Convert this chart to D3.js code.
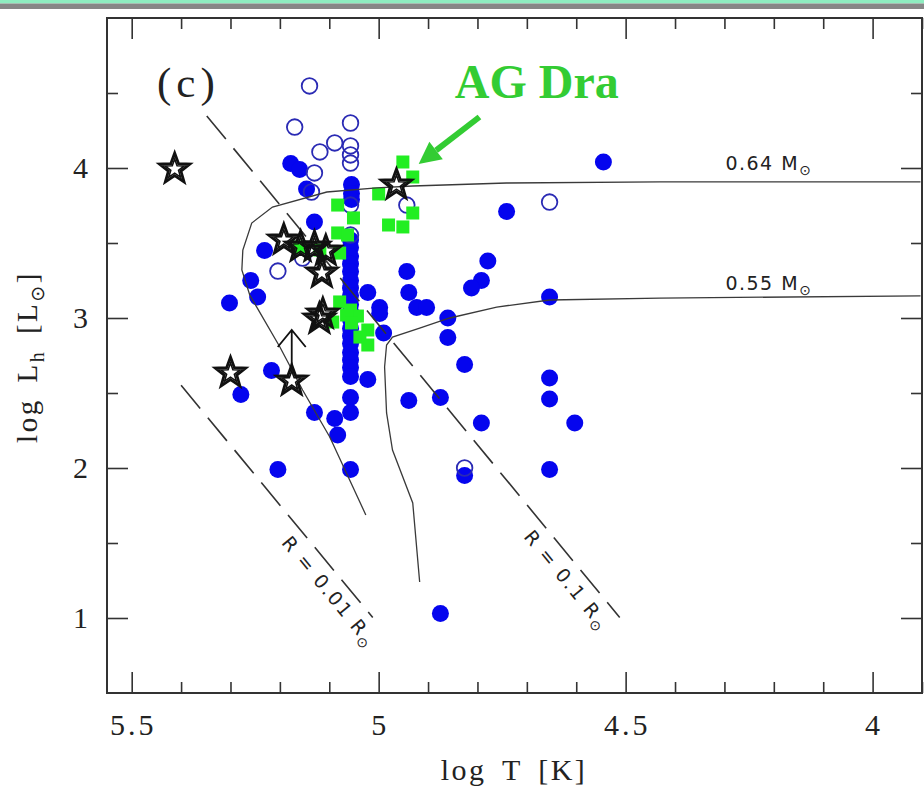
<!DOCTYPE html>
<html>
<head>
<meta charset="utf-8">
<script src="https://cdn.jsdelivr.net/npm/d3@7"></script>
<style>
  html, body { margin: 0; padding: 0; background: #fff; }
  svg { display: block; }
</style>
</head>
<body>
<svg id="chart" width="924" height="797"></svg>
<script>
// ---- Data: log T [K] (x) and log L_h [L_sun] (y) ----

// filled blue circles
const filledT = [5.178,5.160,5.146,5.055,5.055,5.055,5.130,5.231,5.259,5.245,5.302,4.943,4.939,5.022,4.998,4.998,4.990,4.923,4.903,4.860,4.860,4.826,4.779,4.792,4.812,4.741,4.545,4.654,4.654,4.654,4.603,4.654,4.792,4.826,4.875,4.939,5.022,5.217,5.279,5.130,5.089,5.083,5.057,5.057,5.057,5.204,4.875,
  5.057,5.057,5.057,5.057,5.057,5.057,5.057,5.057,5.057,5.057,5.057,5.057,5.057,5.057,5.057,5.057,5.057,5.057];
const filledL = [4.03,3.99,3.86,3.89,3.83,3.79,3.64,3.45,3.25,3.14,3.10,3.31,3.17,3.17,3.07,3.03,2.90,3.07,3.07,3.00,2.87,2.69,3.38,3.25,3.20,3.71,4.04,3.14,2.60,2.46,2.30,1.99,2.30,1.95,2.47,2.45,2.59,2.65,2.49,2.37,2.33,2.22,2.47,2.37,1.99,1.99,1.03,
  3.52,3.47,3.41,3.36,3.31,3.25,3.20,3.15,3.09,3.04,2.99,2.93,2.88,2.83,2.77,2.72,2.67,2.61];

// open blue circles
const openT = [5.140,5.170,5.057,5.089,5.119,5.057,5.057,5.057,5.130,5.136,5.057,4.943,5.204,5.057,5.154,4.654,4.826];
const openL = [4.547,4.273,4.300,4.167,4.107,4.147,4.087,4.033,3.967,3.840,3.753,3.753,3.313,3.553,3.400,3.773,2.000];

// AG Dra (green squares)
const agT = [4.951,4.931,5.000,4.931,4.980,4.951,5.083,5.051,5.083,5.063,5.079,5.079,5.057,5.043,5.065,5.055,5.093,5.022,5.038,5.022,5.160,5.119];
const agL = [4.040,3.940,3.827,3.700,3.620,3.607,3.753,3.667,3.567,3.553,3.433,3.107,3.053,3.013,3.020,2.967,2.973,2.920,2.873,2.820,3.473,3.453];

// star symbols
const starT = [5.413,4.964,5.192,5.158,5.130,5.107,5.115,5.120,5.113,5.176,5.300];
const starL = [4.000,3.893,3.527,3.480,3.480,3.453,3.307,3.000,3.033,2.587,2.640];

// lower-limit arrow attached to one star
const limitT = 5.176, limitFrom = 2.587, limitTo = 2.92;

// evolutionary tracks
const track064T = [5.026,5.099,5.154,5.200,5.261,5.277,5.275,5.257,5.215,5.105,5.004,4.931,4.741,4.431,3.903];
const track064L = [1.687,2.207,2.520,2.807,3.153,3.320,3.453,3.633,3.740,3.840,3.867,3.880,3.900,3.907,3.907];
const track055T = [4.917,4.931,4.972,4.984,4.988,4.984,4.972,4.917,4.856,4.761,4.654,4.431,3.903];
const track055L = [1.240,1.767,2.120,2.367,2.673,2.820,2.873,2.933,3.000,3.073,3.120,3.133,3.147];

// constant-radius lines (end points)
const r001T = [5.400, 5.012], r001L = [2.551, 1.003];
const r01T  = [5.348, 4.512], r01L  = [4.347, 1.003];

// axis ticks
const xMajor = [5.5, 5.0, 4.5, 4.0];
const xTickLabels = ["5.5", "5", "4.5", "4"];
const yMajor = [1, 2, 3, 4];
const yTickLabels = ["1", "2", "3", "4"];

// ---- Scales ----
const x = d3.scaleLinear().domain([5.55, 3.90]).range([107, 922]);
const y = d3.scaleLinear().domain([0.5, 5.0]).range([693, 18]);

const svg = d3.select("#chart");

// header bands
svg.append("rect").attr("x", 0).attr("y", 0).attr("width", 924).attr("height", 3.5).attr("fill", "#8eedc0");
svg.append("rect").attr("x", 0).attr("y", 3.5).attr("width", 924).attr("height", 5.5).attr("fill", "#878787");

const serif = "'Liberation Serif', 'Times New Roman', serif";
const sans = "'DejaVu Sans', sans-serif";

// ---- Ticks (inward, all four sides) ----
const xMinor = d3.range(39, 56).map(v => v / 10).filter(v => !xMajor.some(m => Math.abs(m - v) < 1e-6));
const yMinor = [1.5, 2.5, 3.5, 4.5];
const tickStroke = "#333";

function tickAxis(axisFn, scale, values, size, transform) {
  const g = svg.append("g").attr("transform", transform)
    .call(axisFn(scale).tickValues(values).tickSizeInner(-size).tickSizeOuter(0).tickFormat(""));
  g.select(".domain").remove();
  g.selectAll(".tick line").attr("stroke", tickStroke).attr("stroke-width", 1.6);
  return g;
}
tickAxis(d3.axisBottom, x, xMajor, 21, `translate(0,${y(0.5)})`);
tickAxis(d3.axisBottom, x, xMinor, 11, `translate(0,${y(0.5)})`);
tickAxis(d3.axisTop, x, xMajor, 21, `translate(0,${y(5.0)})`);
tickAxis(d3.axisTop, x, xMinor, 11, `translate(0,${y(5.0)})`);
tickAxis(d3.axisLeft, y, yMajor, 21, `translate(${x(5.55)},0)`);
tickAxis(d3.axisLeft, y, yMinor, 11, `translate(${x(5.55)},0)`);
tickAxis(d3.axisRight, y, yMajor, 21, `translate(${x(3.90)},0)`);
tickAxis(d3.axisRight, y, yMinor, 11, `translate(${x(3.90)},0)`);

// tick labels
svg.append("g").selectAll("text").data(xMajor).join("text")
  .attr("x", d => x(d) + 1.5).attr("y", 735)
  .attr("text-anchor", "middle")
  .attr("font-family", serif).attr("font-size", 30).attr("letter-spacing", 3)
  .attr("fill", "#222")
  .text((d, i) => xTickLabels[i]);
svg.append("g").selectAll("text").data(yMajor).join("text")
  .attr("x", 88).attr("y", d => y(d) + 10)
  .attr("text-anchor", "end")
  .attr("font-family", serif).attr("font-size", 30)
  .attr("fill", "#222")
  .text((d, i) => yTickLabels[i]);

// axis titles
svg.append("text")
  .attr("x", 514).attr("y", 780).attr("text-anchor", "middle")
  .attr("font-family", serif).attr("font-size", 30).attr("letter-spacing", 2.5).attr("word-spacing", 6)
  .attr("fill", "#222")
  .text("log T [K]");

const yt = svg.append("text")
  .attr("transform", "translate(37,357) rotate(-90)")
  .attr("text-anchor", "middle")
  .attr("font-family", serif).attr("font-size", 29).attr("letter-spacing", 2.5).attr("word-spacing", 6)
  .attr("fill", "#222");
yt.append("tspan").text("log L");
yt.append("tspan").attr("font-size", 20).attr("dy", 7).text("h");
yt.append("tspan").attr("dy", -7).text(" [L");
yt.append("tspan").attr("font-size", 19).attr("dy", 7).attr("font-family", sans).text("⊙");
yt.append("tspan").attr("dy", -7).text("]");

// panel tag
svg.append("text")
  .attr("x", 157).attr("y", 97)
  .attr("font-family", serif).attr("font-size", 43).attr("letter-spacing", 5)
  .attr("fill", "#222")
  .text("(c)");

// ---- Points ----
const filled = filledT.map((t, i) => [t, filledL[i]]);
const opened = openT.map((t, i) => [t, openL[i]]);
const agdra = agT.map((t, i) => [t, agL[i]]);
const stars = starT.map((t, i) => [t, starL[i]]);

svg.append("g").selectAll("circle").data(filled).join("circle")
  .attr("cx", d => x(d[0])).attr("cy", d => y(d[1])).attr("r", 8.5)
  .attr("fill", "#0505ee");

svg.append("g").selectAll("circle").data(opened).join("circle")
  .attr("cx", d => x(d[0])).attr("cy", d => y(d[1])).attr("r", 7.8)
  .attr("fill", "none").attr("stroke", "#2a2ab4").attr("stroke-width", 1.8);

svg.append("g").selectAll("rect").data(agdra).join("rect")
  .attr("x", d => x(d[0]) - 6.5).attr("y", d => y(d[1]) - 6.5)
  .attr("width", 13).attr("height", 13)
  .attr("fill", "#22ee22");

// ---- Lines ----
const lineGen = d3.line().x(d => x(d[0])).y(d => y(d[1]));
const lineGroup = svg.append("g").attr("fill", "none");
lineGroup.append("path")
  .attr("d", lineGen(track064T.map((t, i) => [t, track064L[i]])))
  .attr("stroke", "#3a3a3a").attr("stroke-width", 1.3);
lineGroup.append("path")
  .attr("d", lineGen(track055T.map((t, i) => [t, track055L[i]])))
  .attr("stroke", "#3a3a3a").attr("stroke-width", 1.3);
lineGroup.append("path")
  .attr("d", lineGen(r001T.map((t, i) => [t, r001L[i]])))
  .attr("stroke", "#333").attr("stroke-width", 1.6).attr("stroke-dasharray", "30,12");
lineGroup.append("path")
  .attr("d", lineGen(r01T.map((t, i) => [t, r01L[i]])))
  .attr("stroke", "#333").attr("stroke-width", 1.6).attr("stroke-dasharray", "30,12");

// track labels
function massLabel(t, l, txt) {
  const tx = svg.append("text").attr("x", x(t)).attr("y", y(l))
    .attr("font-family", sans).attr("font-size", 19).attr("letter-spacing", 1.5)
    .attr("fill", "#222");
  tx.append("tspan").text(txt + "  M");
  tx.append("tspan").attr("font-size", 14).attr("dy", 5).text("⊙");
}
massLabel(4.298, 3.99, "0.64");
massLabel(4.298, 3.19, "0.55");

// radius labels, rotated along the lines
const lineAngle = Math.atan2(y(1) - y(2), x(4.75) - x(5.0)) * 180 / Math.PI;
function radiusLabel(t, l, txt) {
  const tx = svg.append("text")
    .attr("transform", `translate(${x(t)},${y(l)}) rotate(${lineAngle})`)
    .attr("font-family", sans).attr("font-size", 19).attr("letter-spacing", 2)
    .attr("fill", "#222");
  tx.append("tspan").text(txt + " R");
  tx.append("tspan").attr("font-size", 14).attr("dy", 5).text("⊙");
}
radiusLabel(5.198, 1.50, "R = 0.01");
radiusLabel(4.708, 1.54, "R = 0.1");

// ---- Stars ----
function starPath(R, r) {
  const pts = [];
  for (let i = 0; i < 10; i++) {
    const a = -Math.PI / 2 + i * Math.PI / 5;
    const rad = i % 2 ? r : R;
    pts.push([rad * Math.cos(a), rad * Math.sin(a)]);
  }
  return "M" + pts.map(p => p.join(",")).join("L") + "Z";
}
const starG = svg.append("g").selectAll("g").data(stars).join("g")
  .attr("transform", d => `translate(${x(d[0])},${y(d[1]) + 1})`);
starG.append("path").attr("d", starPath(16, 6.6))
  .attr("fill", "none").attr("stroke", "#111").attr("stroke-width", 2.8).attr("stroke-linejoin", "miter");
starG.append("path").attr("d", starPath(10, 4.1))
  .attr("fill", "none").attr("stroke", "#111").attr("stroke-width", 1.6);

// lower-limit arrow
const ax = x(limitT), ay0 = y(limitFrom) - 14, ay1 = y(limitTo);
svg.append("path")
  .attr("d", `M${ax},${ay0}L${ax},${ay1}M${ax - 14},${ay1 + 17}L${ax},${ay1}L${ax + 14},${ay1 + 17}`)
  .attr("fill", "none").attr("stroke", "#111").attr("stroke-width", 1.8);

// ---- AG Dra annotation ----
const agGreen = "#33cc33";
svg.append("text")
  .attr("x", x(4.846)).attr("y", y(4.467))
  .attr("font-family", serif).attr("font-weight", "bold").attr("font-size", 48)
  .attr("fill", agGreen)
  .text("AG Dra");

const tail = [x(4.796), y(4.34)], tip = [x(4.919), y(4.027)];
const dx = tip[0] - tail[0], dy = tip[1] - tail[1];
const len = Math.hypot(dx, dy), ux = dx / len, uy = dy / len;
const headLen = 22, headW = 11;
const base = [tip[0] - ux * headLen, tip[1] - uy * headLen];
svg.append("line")
  .attr("x1", tail[0]).attr("y1", tail[1]).attr("x2", base[0]).attr("y2", base[1])
  .attr("stroke", agGreen).attr("stroke-width", 6);
svg.append("path")
  .attr("d", `M${tip[0]},${tip[1]}L${base[0] - uy * headW},${base[1] + ux * headW}L${base[0] + uy * headW},${base[1] - ux * headW}Z`)
  .attr("fill", agGreen);

// ---- Frame ----
svg.append("rect")
  .attr("x", x(5.55)).attr("y", y(5.0))
  .attr("width", x(3.90) - x(5.55)).attr("height", y(0.5) - y(5.0))
  .attr("fill", "none").attr("stroke", "#333").attr("stroke-width", 2);
</script>
</body>
</html>
